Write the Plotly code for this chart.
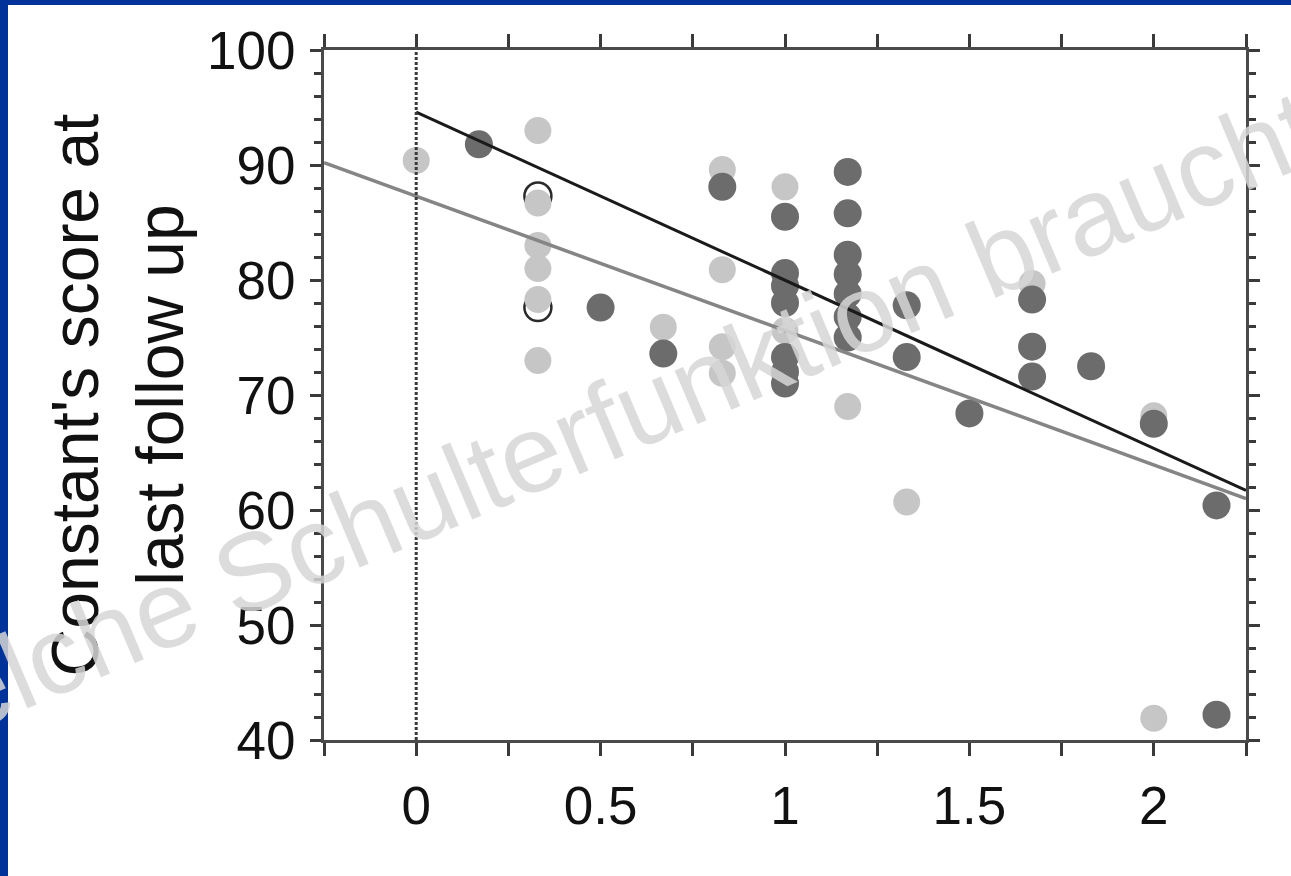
import plotly.graph_objects as go

# Dark-gray group
dark_x = [0.17, 0.5, 0.67, 0.83, 1.0, 1.0, 1.0, 1.0, 1.0, 1.0, 1.0,
          1.17, 1.17, 1.17, 1.17, 1.17, 1.17, 1.17,
          1.33, 1.33, 1.5, 1.67, 1.67, 1.67, 1.83, 2.0, 2.17, 2.17]
dark_y = [91.8, 77.6, 73.6, 88.1, 85.5, 80.6, 79.5, 78.0, 73.3, 72.0, 71.0,
          89.4, 85.8, 82.2, 80.5, 78.8, 76.8, 75.0,
          77.8, 73.3, 68.4, 78.3, 74.2, 71.6, 72.5, 67.5, 60.4, 42.2]

# Light-gray group
light_x = [0.0, 0.33, 0.33, 0.33, 0.33, 0.33, 0.33, 0.67, 0.83, 0.83, 0.83, 0.83,
           1.0, 1.0, 1.17, 1.33, 1.67, 2.0, 2.0]
light_y = [90.4, 93.0, 86.7, 83.0, 81.0, 78.3, 73.0, 75.9, 89.6, 80.9, 74.2, 71.9,
           88.1, 75.6, 69.0, 60.7, 79.7, 68.2, 41.9]

# Open (outlined) circles
ring_x = [0.33, 0.33]
ring_y = [87.3, 77.6]

# Regression lines
black_fit_x = [0.0, 2.25]
black_fit_y = [94.6, 61.7]
gray_fit_x = [-0.25, 2.25]
gray_fit_y = [90.2, 61.0]

x_tickvals = [0, 0.5, 1, 1.5, 2]
x_ticktext = ["0", "0.5", "1", "1.5", "2"]
y_tickvals = [40, 50, 60, 70, 80, 90, 100]

y_title = "Constant's score at<br>last follow up"
watermark = "Welche Schulterfunktion braucht"

FONT = "Liberation Sans, Arial, sans-serif"

fig = go.Figure()

fig.add_trace(go.Scatter(x=ring_x, y=ring_y, mode="markers",
                         marker=dict(size=27, color="rgba(0,0,0,0)",
                                     line=dict(color="#2a2a2a", width=2.5)),
                         showlegend=False, hoverinfo="skip"))
fig.add_trace(go.Scatter(x=light_x, y=light_y, mode="markers",
                         marker=dict(size=27, color="#c6c6c6", line=dict(width=0)),
                         showlegend=False))
fig.add_trace(go.Scatter(x=dark_x, y=dark_y, mode="markers",
                         marker=dict(size=28, color="#6c6c6c", line=dict(width=0)),
                         showlegend=False))
fig.add_trace(go.Scatter(x=gray_fit_x, y=gray_fit_y, mode="lines",
                         line=dict(color="#858585", width=3.5), showlegend=False))
fig.add_trace(go.Scatter(x=black_fit_x, y=black_fit_y, mode="lines",
                         line=dict(color="#1a1a1a", width=3), showlegend=False))

# dotted vertical reference at x=0
fig.add_shape(type="line", xref="x", yref="paper", x0=0, x1=0, y0=0, y1=1,
              line=dict(color="#3a3a3a", width=3, dash="3px,2px"))

# blue frame strips (top and left)
fig.add_shape(type="rect", xref="paper", yref="paper",
              x0=-0.36, x1=(8 - 324) / 922, y0=-0.3, y1=1.08,
              fillcolor="#003399", line=dict(width=0), layer="above")
fig.add_shape(type="rect", xref="paper", yref="paper",
              x0=-0.36, x1=1.1, y0=(740 - 5) / 690, y1=1.08,
              fillcolor="#003399", line=dict(width=0), layer="above")

fig.add_annotation(text=watermark, xref="paper", yref="paper",
                   x=(584 - 324) / 922, y=(740 - 431) / 690,
                   xanchor="center", yanchor="middle",
                   showarrow=False, textangle=-23,
                   font=dict(family=FONT, size=110, color="rgba(214,214,214,0.85)"))

axis_common = dict(showgrid=False, zeroline=False, showline=True,
                   linecolor="#4a4a4a", linewidth=3, mirror="ticks",
                   ticks="outside", tickcolor="#3a3a3a", tickwidth=2.5,
                   tickfont=dict(family=FONT, size=53, color="#111111"))

fig.update_layout(
    width=1291, height=876,
    margin=dict(l=324, r=45, t=50, b=136),
    paper_bgcolor="white", plot_bgcolor="white",
    xaxis=dict(range=[-0.25, 2.25], tickvals=x_tickvals, ticktext=x_ticktext,
               ticklen=13, ticklabelstandoff=4,
               minor=dict(dtick=0.25, tick0=0, ticks="outside", ticklen=13,
                          tickwidth=2.5, tickcolor="#3a3a3a"),
               **axis_common),
    yaxis=dict(range=[40, 100], tickvals=y_tickvals, ticklen=11,
               ticklabelstandoff=4,
               minor=dict(dtick=2, tick0=40, ticks="outside", ticklen=7,
                          tickwidth=2.5, tickcolor="#3a3a3a"),
               title=dict(text=y_title, standoff=2,
                          font=dict(family=FONT, size=66, color="#111111")),
               **axis_common),
)

fig.write_html("out.html",
               config={"displayModeBar": False},
               post_script="document.body.style.margin='0';"
                           "document.body.style.overflow='hidden';")
